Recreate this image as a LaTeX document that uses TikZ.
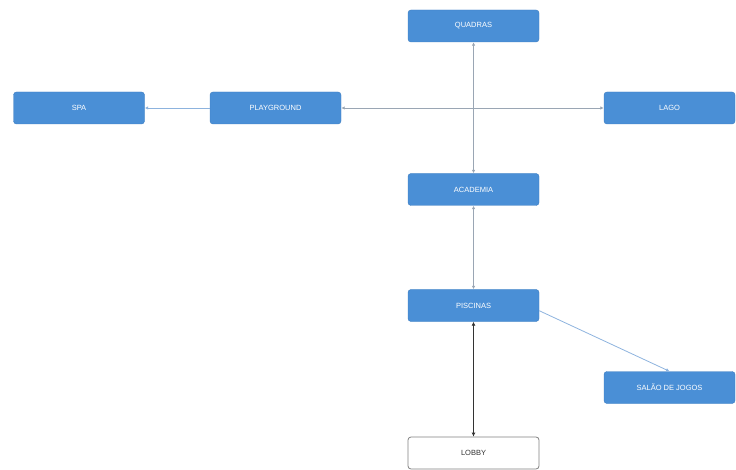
\documentclass[tikz,border=0pt]{standalone}
\usepackage{fontspec}
\setmainfont{Liberation Sans}
\usetikzlibrary{arrows.meta}
\definecolor{boxblue}{HTML}{4A8FD6}
\definecolor{boxedge}{HTML}{3C7CC0}
\definecolor{linkblue}{HTML}{8DB3DE}
\definecolor{linkgray}{HTML}{9AA6B4}
\tikzset{
  bluebox/.style={draw=boxedge, fill=boxblue, rounded corners=3pt, minimum width=131pt, minimum height=32pt, text=white, font=\fontsize{7.5}{8}\selectfont, inner sep=0pt},
  whitebox/.style={draw=gray, line width=0.8pt, fill=white, rounded corners=3pt, minimum width=131pt, minimum height=32pt, text=black!80, font=\fontsize{7.5}{8}\selectfont, inner sep=0pt},
  link/.style={draw=linkblue, line width=0.8pt, -{Latex[length=3.5pt,width=3.5pt]}},
  dlink/.style={draw=linkgray, line width=0.8pt, {Latex[length=3.5pt,width=3.5pt]}-{Latex[length=3.5pt,width=3.5pt]}},
  blink/.style={draw=black!80, line width=1.1pt, {Latex[length=4pt,width=4pt]}-{Latex[length=4pt,width=4pt]}}
}
\begin{document}
\begin{tikzpicture}[x=1pt,y=-1pt]
\useasboundingbox (0,0) rectangle (736,470);
\node[bluebox] (quadras) at (473.5,26) {QUADRAS};
\node[bluebox] (spa) at (79,108) {SPA};
\node[bluebox] (play) at (275.5,108) {PLAYGROUND};
\node[bluebox] (lago) at (669.5,108) {LAGO};
\node[bluebox] (acad) at (473.5,189.5) {ACADEMIA};
\node[bluebox] (pisc) at (473.5,305.5) {PISCINAS};
\node[bluebox] (salao) at (669.5,387.5) {SALÃO DE JOGOS};
\node[whitebox] (lobby) at (473.5,453) {LOBBY};
\draw[link] (play.west) -- (spa.east);
\draw[dlink] (play.east) -- (lago.west);
\draw[dlink] (quadras.south) -- (acad.north);
\draw[dlink] (acad.south) -- (pisc.north);
\coordinate (ps) at ([yshift=11pt]pisc.south east);
\draw[link] (ps) -- (salao.north);
\draw[blink] (pisc.south) -- (lobby.north);
\end{tikzpicture}
\end{document}
